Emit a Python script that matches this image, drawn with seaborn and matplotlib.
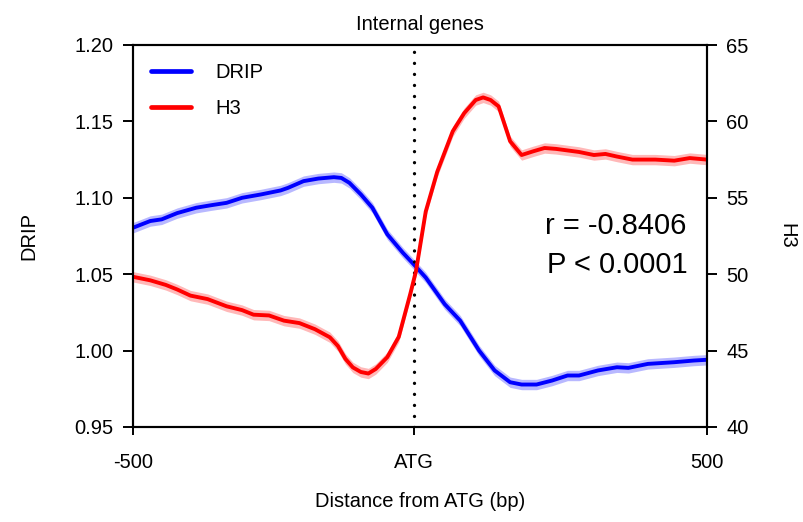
import numpy as np
import pandas as pd
import matplotlib
matplotlib.use("Agg")
import matplotlib.pyplot as plt
import seaborn as sns
from matplotlib.lines import Line2D

# ---------------- data ----------------
drip_x = [-500, -470, -450, -423, -390, -363, -337, -310, -277, -243, -230, -203,
          -177, -150, -137, -123, -103, -83, -57, -30, -11, 10, 43, 70, 103, 130,
          157, 177, 203, 230, 257, 277, 310, 343, 363, 397, 443, 477, 500]
drip_y = [1.0804, 1.0848, 1.0859, 1.0900, 1.0935, 1.0952, 1.0967, 1.1000, 1.1022,
          1.1048, 1.1065, 1.1109, 1.1126, 1.1135, 1.1130, 1.1098, 1.1022, 1.0935,
          1.0761, 1.0641, 1.0565, 1.0478, 1.0304, 1.0196, 1.0000, 0.9870, 0.9793,
          0.9778, 0.9778, 0.9804, 0.9837, 0.9837, 0.9870, 0.9891, 0.9887, 0.9913,
          0.9924, 0.9935, 0.9940]

h3_x = [-500, -470, -443, -423, -400, -370, -337, -310, -290, -263, -237, -210,
        -183, -157, -143, -130, -117, -103, -90, -77, -57, -37, -17, -7, 10, 30,
        57, 77, 97, 110, 123, 137, 157, 177, 197, 217, 237, 277, 303, 323, 343,
        370, 410, 443, 470, 500]
h3_y = [49.83, 49.60, 49.30, 49.00, 48.60, 48.37, 47.90, 47.65, 47.35, 47.30,
        46.96, 46.80, 46.40, 45.87, 45.30, 44.46, 43.90, 43.60, 43.50, 43.80,
        44.57, 45.90, 48.70, 50.20, 54.10, 56.70, 59.35, 60.54, 61.40, 61.57,
        61.40, 60.98, 58.70, 57.80, 58.04, 58.26, 58.20, 58.00, 57.80, 57.87,
        57.70, 57.50, 57.50, 57.43, 57.60, 57.50]

drip_err = 0.0034
h3_err = 0.34

atg_x = -11
xticks = [-500, atg_x, 500]
xticklabels = ["-500", "ATG", "500"]
drip_ticks = [0.95, 1.00, 1.05, 1.10, 1.15, 1.20]
h3_ticks = [40, 45, 50, 55, 60, 65]

title = "Internal genes"
xlabel = "Distance from ATG (bp)"
r_text = "r = -0.8406"
p_text = "P < 0.0001"

# ---------------- style ----------------
sns.set_style("ticks")
plt.rcParams["font.family"] = ["Liberation Sans", "DejaVu Sans"]
plt.rcParams["text.color"] = "black"
plt.rcParams["axes.labelcolor"] = "black"
plt.rcParams["xtick.color"] = "black"
plt.rcParams["ytick.color"] = "black"

blue = "#0000FF"
red = "#FF0000"

drip_df = pd.DataFrame({"x": drip_x, "y": drip_y})
h3_df = pd.DataFrame({"x": h3_x, "y": h3_y})

fig = plt.figure(figsize=(8.04, 5.22), dpi=100)
ax = fig.add_axes([133 / 804, 1 - 427 / 522, 574 / 804, 382 / 522])
ax2 = ax.twinx()

# bands
ax.fill_between(drip_df["x"], drip_df["y"] - drip_err, drip_df["y"] + drip_err,
                color=blue, alpha=0.28, lw=0)
ax2.fill_between(h3_df["x"], h3_df["y"] - h3_err, h3_df["y"] + h3_err,
                 color=red, alpha=0.28, lw=0)

sns.lineplot(data=drip_df, x="x", y="y", ax=ax, color=blue, lw=2.8,
             label="DRIP", legend=False)
sns.lineplot(data=h3_df, x="x", y="y", ax=ax2, color=red, lw=2.8,
             label="H3", legend=False)

ax.axvline(atg_x, color="black", lw=2.4, linestyle=(0, (0.01, 3.3)),
           dash_capstyle="round")

ax.set_xlim(-500, 500)
ax.set_ylim(0.95, 1.20)
ax2.set_ylim(40, 65)

ax.set_xticks(xticks)
ax.set_xticklabels(xticklabels)
ax.set_yticks(drip_ticks)
ax.set_yticklabels([f"{t:.2f}" for t in drip_ticks])
ax2.set_yticks(h3_ticks)
ax2.set_yticklabels([str(t) for t in h3_ticks])

fs = 14.5
ax.tick_params(axis="y", direction="out", length=7, width=1.4, labelsize=fs, pad=7)
ax.tick_params(axis="x", direction="out", length=6, width=1.4, labelsize=fs, pad=13)
ax2.tick_params(axis="y", direction="out", length=7, width=1.4, labelsize=fs, pad=7)

for a in (ax, ax2):
    for s in a.spines.values():
        s.set_visible(True)
        s.set_linewidth(1.5)
        s.set_color("black")

ax.set_xlabel(xlabel, fontsize=fs, labelpad=14)
ax.set_ylabel("DRIP", fontsize=fs, labelpad=26)
ax2.set_ylabel("H3", fontsize=fs, rotation=270, labelpad=34)
ax.set_title(title, fontsize=fs, pad=11)

ax.text(0.718, 0.526, r_text, transform=ax.transAxes,
        fontsize=21, ha="left", va="center")
ax.text(0.722, 0.424, p_text, transform=ax.transAxes,
        fontsize=21, ha="left", va="center")

handles = [Line2D([], [], color=blue, lw=3.4), Line2D([], [], color=red, lw=3.4)]
ax.legend(handles, ["DRIP", "H3"], loc="upper left", frameon=False, fontsize=fs,
          handlelength=2.0, handletextpad=1.2, labelspacing=0.85,
          borderaxespad=0.5, bbox_to_anchor=(0.0, 1.0))

fig.savefig("out.png", dpi=100)
